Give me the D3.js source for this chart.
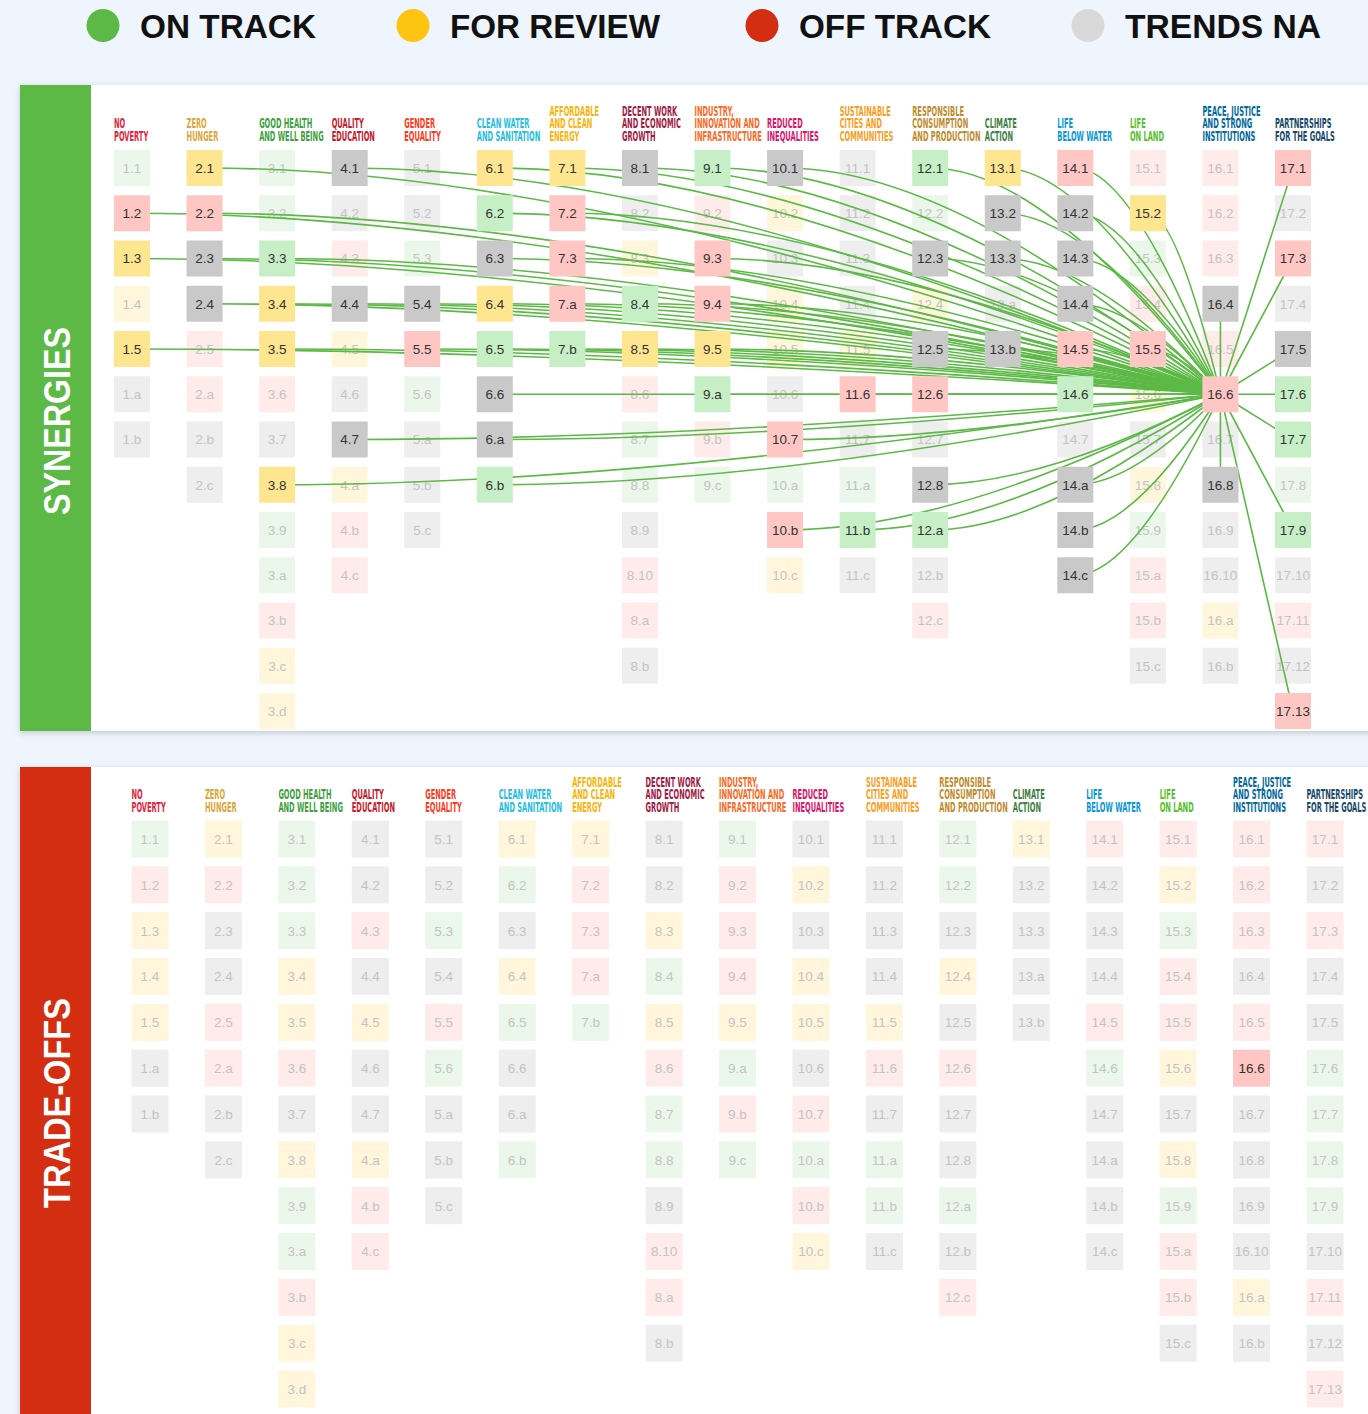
<!DOCTYPE html>
<meta charset="utf-8">
<script src="https://d3js.org/d3.v7.min.js"></script>
<style>
  body { margin: 0; background: #eef5fc; }
  svg { display: block; }
</style>
<div id="chart"></div>
<script>

// ---- data ----
var goalNames = [
  ["NO", "POVERTY"], ["ZERO", "HUNGER"], ["GOOD HEALTH", "AND WELL BEING"],
  ["QUALITY", "EDUCATION"], ["GENDER", "EQUALITY"], ["CLEAN WATER", "AND SANITATION"],
  ["AFFORDABLE", "AND CLEAN", "ENERGY"], ["DECENT WORK", "AND ECONOMIC", "GROWTH"],
  ["INDUSTRY,", "INNOVATION AND", "INFRASTRUCTURE"], ["REDUCED", "INEQUALITIES"],
  ["SUSTAINABLE", "CITIES AND", "COMMUNITIES"], ["RESPONSIBLE", "CONSUMPTION", "AND PRODUCTION"],
  ["CLIMATE", "ACTION"], ["LIFE", "BELOW WATER"], ["LIFE", "ON LAND"],
  ["PEACE, JUSTICE", "AND STRONG", "INSTITUTIONS"], ["PARTNERSHIPS", "FOR THE GOALS"]
];

var goalColors = ["#e5243b", "#dda63a", "#3f9f3f", "#c5192d", "#ff3a21", "#26bde2",
  "#fcb30b", "#a21942", "#fd6925", "#dd1367", "#fd9d24", "#bf8b2e", "#3f7e44",
  "#0a97d9", "#56c02b", "#00689d", "#19486a"];

var targetCodes = [
  ["1.1", "1.2", "1.3", "1.4", "1.5", "1.a", "1.b"],
  ["2.1", "2.2", "2.3", "2.4", "2.5", "2.a", "2.b", "2.c"],
  ["3.1", "3.2", "3.3", "3.4", "3.5", "3.6", "3.7", "3.8", "3.9", "3.a", "3.b", "3.c", "3.d"],
  ["4.1", "4.2", "4.3", "4.4", "4.5", "4.6", "4.7", "4.a", "4.b", "4.c"],
  ["5.1", "5.2", "5.3", "5.4", "5.5", "5.6", "5.a", "5.b", "5.c"],
  ["6.1", "6.2", "6.3", "6.4", "6.5", "6.6", "6.a", "6.b"],
  ["7.1", "7.2", "7.3", "7.a", "7.b"],
  ["8.1", "8.2", "8.3", "8.4", "8.5", "8.6", "8.7", "8.8", "8.9", "8.10", "8.a", "8.b"],
  ["9.1", "9.2", "9.3", "9.4", "9.5", "9.a", "9.b", "9.c"],
  ["10.1", "10.2", "10.3", "10.4", "10.5", "10.6", "10.7", "10.a", "10.b", "10.c"],
  ["11.1", "11.2", "11.3", "11.4", "11.5", "11.6", "11.7", "11.a", "11.b", "11.c"],
  ["12.1", "12.2", "12.3", "12.4", "12.5", "12.6", "12.7", "12.8", "12.a", "12.b", "12.c"],
  ["13.1", "13.2", "13.3", "13.a", "13.b"],
  ["14.1", "14.2", "14.3", "14.4", "14.5", "14.6", "14.7", "14.a", "14.b", "14.c"],
  ["15.1", "15.2", "15.3", "15.4", "15.5", "15.6", "15.7", "15.8", "15.9", "15.a", "15.b", "15.c"],
  ["16.1", "16.2", "16.3", "16.4", "16.5", "16.6", "16.7", "16.8", "16.9", "16.10", "16.a", "16.b"],
  ["17.1", "17.2", "17.3", "17.4", "17.5", "17.6", "17.7", "17.8", "17.9", "17.10", "17.11", "17.12", "17.13"]
];

// g = on track, y = for review, r = off track, n = trends NA
var targetStatus = [
  "gryyynn", "yrnnrrnn", "gggyyrnyggryy", "nnrnynnyrr", "nngnrgnnn",
  "ygnygnng", "yrrrg", "nnygyrggnrrn", "grrrygrg", "nynyynrgry",
  "nnnnyrnggn", "ggnynrnngnr", "ynnnn", "rnnnrgnnnn", "rygrrynygrrn",
  "rrrnrrnnnnyn", "rnrnnggggnrnr"
];

var legendKeys = ["g", "y", "r", "n"];
var legendLabels = ["ON TRACK", "FOR REVIEW", "OFF TRACK", "TRENDS NA"];

var synergyHub = "16.6";
var synergySources = [
  "1.2", "1.3", "1.5", "2.1", "2.2", "2.3", "2.4", "3.3", "3.4", "3.5", "3.8",
  "4.1", "4.4", "4.7", "5.4", "5.5", "6.1", "6.2", "6.3", "6.4", "6.5", "6.6", "6.a", "6.b",
  "7.1", "7.2", "7.3", "7.a", "7.b", "8.1", "8.4", "8.5", "9.1", "9.3", "9.4", "9.5", "9.a",
  "10.1", "10.7", "10.b", "11.6", "11.b", "12.1", "12.3", "12.5", "12.6", "12.8", "12.a",
  "13.1", "13.2", "13.3", "13.b", "14.1", "14.2", "14.3", "14.4", "14.5", "14.6",
  "14.a", "14.b", "14.c", "15.2", "15.5", "16.4", "16.8",
  "17.1", "17.3", "17.5", "17.6", "17.7", "17.9", "17.13"
];

var tradeoffHub = "16.6";
var tradeoffSources = [];

// ---- styles ----
var legendColor = { g: "#5cb946", y: "#fec412", r: "#d42e12", n: "#d9d9d9" };
var activeFill = { g: "#c6efc6", y: "#fee590", r: "#ffc7c4", n: "#c9c9c9" };
var fadedFill = { g: "#ecf7eb", y: "#fff6dc", r: "#ffebea", n: "#eeeeee" };

var W = 1368, H = 1414;

var svg = d3.select("#chart").append("svg")
  .attr("width", W).attr("height", H);

var defs = svg.append("defs");
var shadow = defs.append("filter").attr("id", "shadow")
  .attr("x", "-5%").attr("y", "-5%").attr("width", "110%").attr("height", "110%");
shadow.append("feDropShadow").attr("dx", 0).attr("dy", 2).attr("stdDeviation", 3)
  .attr("flood-color", "#000").attr("flood-opacity", 0.18);

// legend
var legendX = [103, 413, 762, 1088];
var legendW = [176, 210, 192, 196];
legendKeys.forEach(function (k, i) {
  svg.append("circle").attr("cx", legendX[i]).attr("cy", 25.5).attr("r", 16.5)
    .attr("fill", legendColor[k]);
  svg.append("text").attr("x", legendX[i] + 37).attr("y", 37.5)
    .attr("font-family", "Liberation Sans, Arial, sans-serif")
    .attr("font-weight", "bold").attr("font-size", 34)
    .attr("textLength", legendW[i]).attr("lengthAdjust", "spacingAndGlyphs")
    .attr("fill", "#111").text(legendLabels[i]);
});

// flat list of targets
var targets = [];
targetCodes.forEach(function (codes, gi) {
  codes.forEach(function (c, ri) {
    targets.push({ code: c, goal: gi + 1, row: ri, status: targetStatus[gi][ri] });
  });
});

var panels = [
  { top: 85, bottom: 731, band: "#5cb946", title: "SYNERGIES", titleY: 421, titleLen: 188,
    xr: [132, 1293], yr: [168, 711], box: 36, hub: synergyHub, sources: synergySources },
  { top: 767, bottom: 1440, band: "#d42e12", title: "TRADE-OFFS", titleY: 1103, titleLen: 210,
    xr: [150, 1325], yr: [839, 1389], box: 37, hub: tradeoffHub, sources: tradeoffSources }
];

panels.forEach(function (p) {
  var g = svg.append("g");

  g.append("rect").attr("x", 20).attr("y", p.top).attr("width", W + 20)
    .attr("height", p.bottom - p.top).attr("fill", "#fff").attr("filter", "url(#shadow)");
  g.append("rect").attr("x", 20).attr("y", p.top).attr("width", 71)
    .attr("height", p.bottom - p.top).attr("fill", p.band);
  g.append("text")
    .attr("transform", "translate(70," + p.titleY + ") rotate(-90)")
    .attr("text-anchor", "middle")
    .attr("font-family", "Liberation Sans, Arial, sans-serif")
    .attr("font-weight", "bold").attr("font-size", 36)
    .attr("textLength", p.titleLen).attr("lengthAdjust", "spacingAndGlyphs")
    .attr("fill", "#fff").text(p.title);

  var x = d3.scaleLinear().domain([1, 17]).range(p.xr);
  var y = d3.scaleLinear().domain([0, 12]).range(p.yr);
  var half = p.box / 2;

  // goal headers
  goalNames.forEach(function (lines, gi) {
    var n = lines.length;
    lines.forEach(function (line, li) {
      var by = p.yr[0] - 27.5 - (n - 1 - li) * 12.4;
      g.append("text")
        .attr("transform", "translate(" + (x(gi + 1) - half) + "," + by + ") scale(0.55,1)")
        .attr("font-family", "Liberation Sans Narrow, DejaVu Sans Condensed, sans-serif")
        .attr("font-weight", "bold").attr("font-size", 13.5)
        .attr("fill", goalColors[gi]).text(line);
    });
  });

  var active = new Set(p.sources.length ? p.sources.concat([p.hub]) : [p.hub]);
  var byCode = {};
  targets.forEach(function (t) { byCode[t.code] = t; });

  function drawBoxes(list, isActive) {
    var cell = g.append("g").selectAll("g").data(list).join("g")
      .attr("transform", function (d) { return "translate(" + x(d.goal) + "," + y(d.row) + ")"; });
    cell.append("rect")
      .attr("x", -half).attr("y", -half).attr("width", p.box).attr("height", p.box)
      .attr("fill", function (d) { return isActive ? activeFill[d.status] : fadedFill[d.status]; });
    cell.append("text")
      .attr("text-anchor", "middle").attr("dy", "0.36em")
      .attr("font-family", "Liberation Sans, Arial, sans-serif")
      .attr("font-size", 13.5)
      .attr("fill", isActive ? "#333" : "#c3c3c3")
      .text(function (d) { return d.code; });
  }

  drawBoxes(targets.filter(function (t) { return !active.has(t.code); }), false);

  // links to the hub
  var hub = byCode[p.hub];
  var hx = x(hub.goal), hy = y(hub.row);
  g.append("g").selectAll("path").data(p.sources).join("path")
    .attr("fill", "none").attr("stroke", "#5cb946").attr("stroke-width", 1.6)
    .attr("d", function (c) {
      var s = byCode[c];
      var sx = x(s.goal), sy = y(s.row);
      var path = d3.path();
      path.moveTo(sx, sy);
      if (s.goal >= hub.goal) path.lineTo(hx, hy);
      else path.quadraticCurveTo(sx + 0.4 * (hx - sx), sy, hx, hy);
      return path.toString();
    });

  drawBoxes(targets.filter(function (t) { return active.has(t.code); }), true);
});

</script>
